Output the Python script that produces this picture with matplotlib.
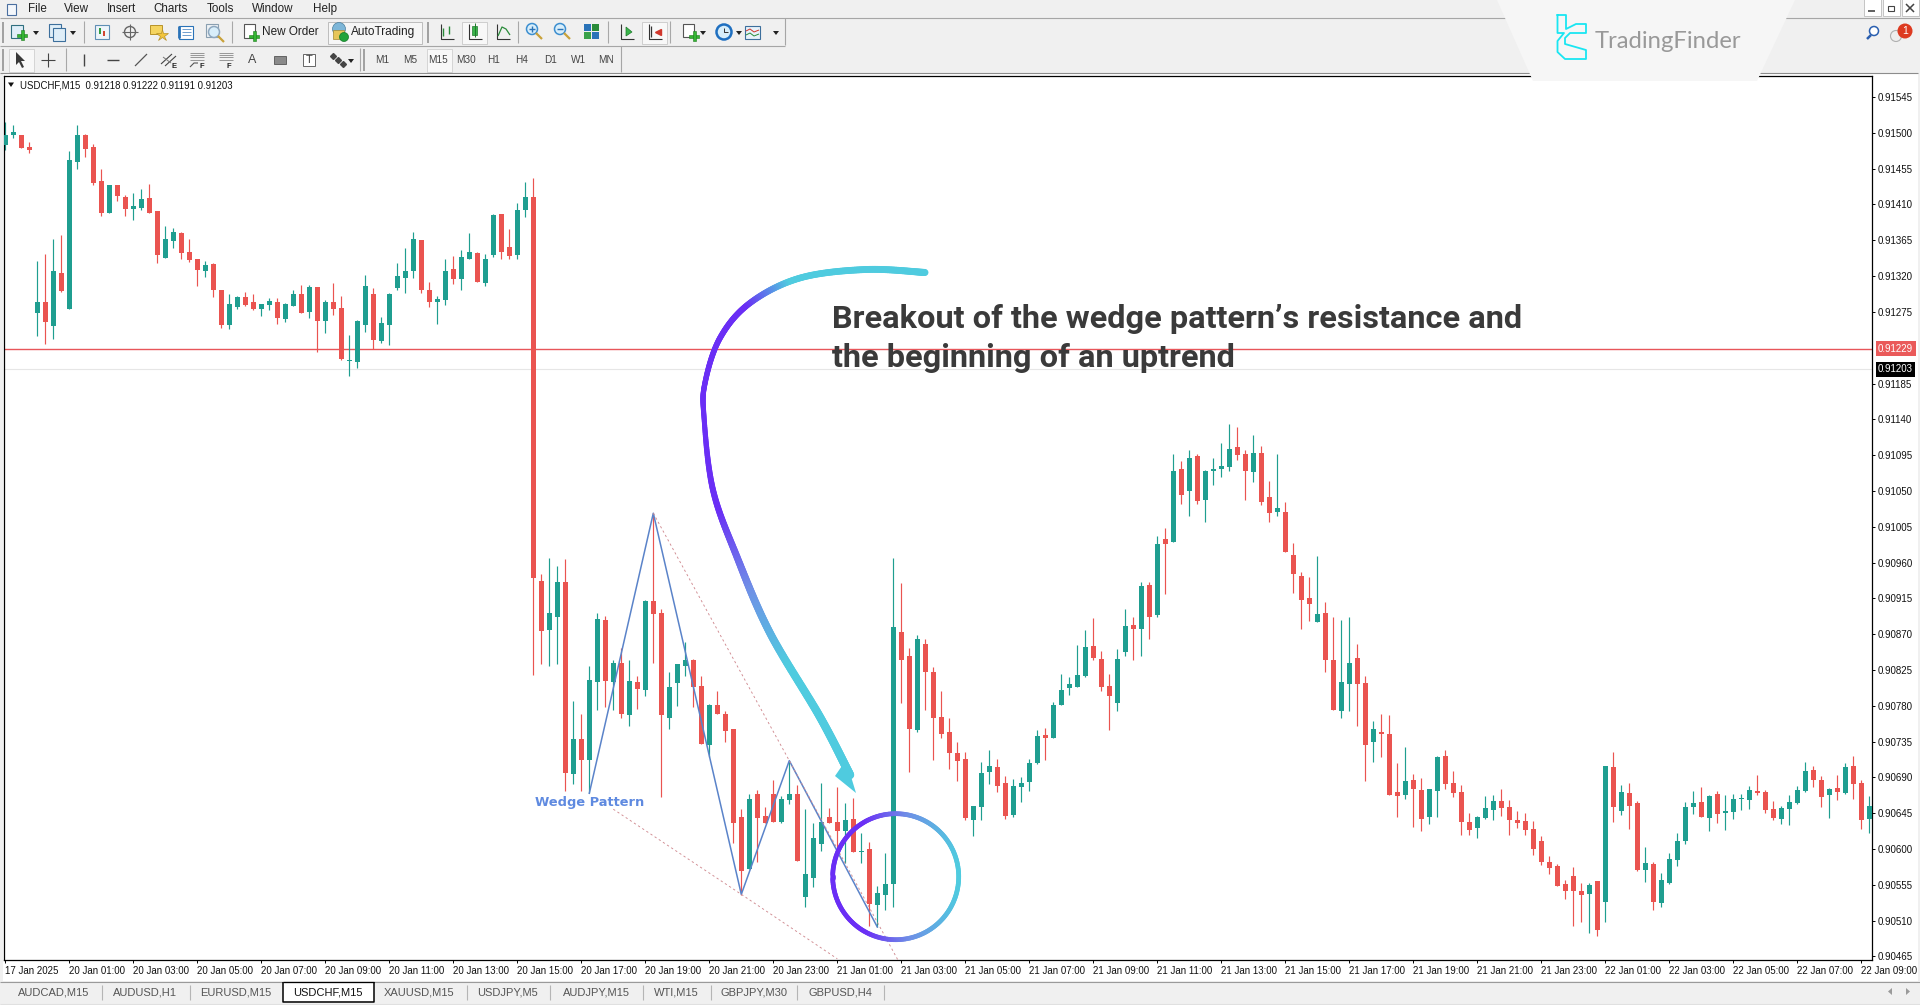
import numpy as np
import matplotlib
matplotlib.use('Agg')
import matplotlib.pyplot as plt
from matplotlib.collections import LineCollection
from matplotlib.patches import Rectangle, Polygon, Circle

# prices in points (1e-5), one value per M15 bar
highs = [
    91514, 91510, 91497, 91488, 91339, 91348, 91366, 91372, 91477, 91510,
    91499, 91486, 91455, 91435, 91435, 91422, 91424, 91430, 91436, 91402,
    91383, 91380, 91375, 91367, 91342, 91339, 91336, 91303, 91298, 91295,
    91300, 91297, 91285, 91292, 91292, 91286, 91302, 91309, 91309, 91306,
    91290, 91311, 91295, 91246, 91265, 91321, 91305, 91269, 91299, 91337,
    91355, 91375, 91365, 91313, 91295, 91341, 91345, 91353, 91374, 91350,
    91348, 91398, 91398, 91379, 91412, 91438, 91443, 90945, 90966, 90956,
    90965, 90786, 90770, 90830, 90896, 90893, 90837, 90852, 90838, 90817,
    90913, 91022, 90902, 90822, 90833, 90860, 90839, 90817, 90782, 90799,
    90774, 90751, 90650, 90669, 90674, 90653, 90687, 90667, 90711, 90681,
    90650, 90633, 90683, 90652, 90678, 90658, 90664, 90620, 90609, 90554,
    90595, 90966, 90934, 90852, 90869, 90864, 90829, 90799, 90764, 90735,
    90722, 90654, 90709, 90724, 90713, 90692, 90688, 90690, 90713, 90749,
    90752, 90785, 90820, 90816, 90856, 90875, 90890, 90849, 90820, 90851,
    90901, 90892, 90936, 90935, 90993, 91003, 91096, 91088, 91101, 91097,
    91076, 91091, 91110, 91134, 91130, 91101, 91120, 91106, 91062, 91096,
    91036, 90984, 90948, 90942, 90968, 90911, 90891, 90888, 90891, 90858,
    90818, 90761, 90770, 90769, 90708, 90728, 90694, 90689, 90675, 90717,
    90724, 90698, 90680, 90645, 90641, 90667, 90668, 90675, 90662, 90648,
    90645, 90635, 90616, 90591, 90581, 90561, 90577, 90557, 90557, 90560,
    90704, 90722, 90680, 90683, 90660, 90603, 90584, 90570, 90595, 90620,
    90659, 90673, 90678, 90668, 90673, 90668, 90669, 90669, 90679, 90693,
    90674, 90660, 90654, 90668, 90679, 90709, 90704, 90692, 90677, 90693,
    90708, 90717, 90687, 90667,
]
lows = [
    91478, 91494, 91481, 91475, 91245, 91235, 91241, 91300, 91279, 91455,
    91470, 91434, 91395, 91399, 91414, 91396, 91391, 91403, 91399, 91336,
    91343, 91355, 91342, 91338, 91308, 91319, 91294, 91255, 91254, 91279,
    91283, 91277, 91270, 91277, 91260, 91262, 91282, 91273, 91267, 91225,
    91249, 91271, 91215, 91194, 91205, 91250, 91229, 91236, 91233, 91303,
    91299, 91318, 91299, 91281, 91260, 91284, 91310, 91303, 91342, 91312,
    91308, 91344, 91342, 91342, 91342, 91394, 90819, 90832, 90830, 90833,
    90673, 90682, 90673, 90670, 90775, 90779, 90775, 90765, 90754, 90776,
    90792, 90834, 90665, 90751, 90780, 90817, 90778, 90732, 90716, 90770,
    90734, 90608, 90542, 90575, 90584, 90633, 90634, 90633, 90657, 90585,
    90527, 90552, 90597, 90633, 90598, 90583, 90596, 90582, 90503, 90502,
    90523, 90527, 90784, 90697, 90747, 90775, 90712, 90740, 90700, 90685,
    90636, 90616, 90637, 90682, 90671, 90638, 90640, 90659, 90673, 90707,
    90712, 90739, 90781, 90794, 90804, 90816, 90838, 90799, 90749, 90774,
    90842, 90838, 90842, 90864, 90891, 90920, 90986, 91033, 91018, 91034,
    91011, 91057, 91068, 91075, 91089, 91038, 91061, 91032, 91011, 91018,
    90973, 90922, 90876, 90886, 90885, 90823, 90775, 90764, 90774, 90755,
    90686, 90709, 90716, 90668, 90640, 90663, 90628, 90623, 90631, 90640,
    90676, 90665, 90617, 90617, 90614, 90638, 90636, 90641, 90618, 90626,
    90618, 90593, 90580, 90569, 90554, 90537, 90503, 90508, 90494, 90491,
    90508, 90634, 90643, 90625, 90572, 90559, 90523, 90527, 90556, 90579,
    90606, 90644, 90640, 90623, 90633, 90624, 90638, 90649, 90650, 90668,
    90645, 90636, 90631, 90630, 90657, 90672, 90678, 90653, 90639, 90662,
    90669, 90663, 90625, 90620,
]
opens = [
    91485, 91497, 91497, 91482, 91273, 91288, 91257, 91324, 91279, 91464,
    91497, 91482, 91440, 91399, 91435, 91419, 91404, 91406, 91418, 91402,
    91343, 91364, 91374, 91350, 91342, 91326, 91335, 91303, 91258, 91281,
    91294, 91287, 91279, 91284, 91288, 91266, 91282, 91298, 91275, 91306,
    91264, 91288, 91280, 91213, 91212, 91259, 91298, 91238, 91259, 91305,
    91318, 91326, 91365, 91303, 91287, 91290, 91329, 91316, 91342, 91349,
    91311, 91347, 91398, 91357, 91347, 91403, 91419, 90937, 90875, 90892,
    90936, 90694, 90738, 90712, 90810, 90888, 90810, 90834, 90768, 90810,
    90800, 90912, 90897, 90765, 90808, 90830, 90838, 90805, 90731, 90781,
    90770, 90751, 90640, 90575, 90669, 90642, 90669, 90634, 90662, 90669,
    90540, 90564, 90606, 90640, 90634, 90623, 90638, 90596, 90600, 90530,
    90542, 90556, 90873, 90842, 90750, 90858, 90822, 90766, 90747, 90721,
    90713, 90637, 90653, 90697, 90703, 90683, 90643, 90678, 90684, 90708,
    90743, 90739, 90781, 90802, 90804, 90818, 90855, 90839, 90805, 90783,
    90847, 90882, 90877, 90932, 90894, 90989, 90986, 91078, 91050, 91094,
    91039, 91075, 91078, 91080, 91105, 91097, 91074, 91098, 91042, 91023,
    91024, 90970, 90943, 90916, 90885, 90897, 90838, 90774, 90807, 90840,
    90809, 90734, 90747, 90745, 90671, 90668, 90687, 90674, 90640, 90673,
    90717, 90683, 90672, 90634, 90626, 90639, 90649, 90660, 90653, 90636,
    90635, 90625, 90610, 90584, 90579, 90556, 90566, 90547, 90543, 90560,
    90533, 90703, 90648, 90670, 90658, 90574, 90581, 90532, 90557, 90586,
    90610, 90653, 90659, 90639, 90669, 90645, 90646, 90663, 90662, 90673,
    90672, 90650, 90638, 90650, 90658, 90673, 90699, 90687, 90668, 90677,
    90670, 90704, 90683, 90638,
]
closes = [
    91497, 91501, 91481, 91479, 91288, 91262, 91327, 91301, 91466, 91497,
    91480, 91437, 91399, 91435, 91421, 91404, 91408, 91417, 91399, 91346,
    91366, 91375, 91349, 91340, 91328, 91334, 91303, 91258, 91285, 91294,
    91284, 91279, 91285, 91289, 91267, 91285, 91298, 91274, 91306, 91264,
    91287, 91279, 91216, 91215, 91263, 91307, 91240, 91261, 91298, 91320,
    91327, 91366, 91303, 91287, 91291, 91327, 91316, 91344, 91350, 91313,
    91342, 91397, 91350, 91345, 91403, 91420, 90940, 90874, 90897, 90936,
    90696, 90738, 90712, 90812, 90889, 90811, 90834, 90770, 90811, 90801,
    90912, 90895, 90768, 90804, 90833, 90838, 90803, 90732, 90781, 90770,
    90748, 90633, 90572, 90663, 90639, 90633, 90634, 90663, 90669, 90585,
    90569, 90614, 90634, 90633, 90623, 90637, 90596, 90597, 90531, 90545,
    90556, 90879, 90838, 90751, 90864, 90822, 90765, 90745, 90721, 90711,
    90639, 90654, 90696, 90704, 90679, 90642, 90679, 90683, 90708, 90742,
    90740, 90781, 90800, 90807, 90819, 90854, 90840, 90804, 90792, 90839,
    90880, 90877, 90930, 90892, 90983, 90983, 91075, 91045, 91092, 91037,
    91075, 91077, 91081, 91103, 91095, 91075, 91098, 91036, 91022, 91028,
    90973, 90946, 90913, 90908, 90895, 90838, 90775, 90810, 90834, 90807,
    90731, 90751, 90744, 90668, 90667, 90685, 90676, 90638, 90675, 90716,
    90682, 90670, 90634, 90624, 90640, 90652, 90660, 90651, 90636, 90633,
    90624, 90600, 90584, 90576, 90554, 90547, 90547, 90542, 90555, 90498,
    90704, 90653, 90672, 90654, 90574, 90582, 90533, 90561, 90587, 90610,
    90653, 90658, 90640, 90667, 90644, 90648, 90663, 90664, 90674, 90670,
    90649, 90639, 90652, 90659, 90674, 90698, 90687, 90665, 90675, 90672,
    90703, 90682, 90636, 90654,
]

time_labels = ['17 Jan 2025'] + [
    '20 Jan 01:00', '20 Jan 03:00', '20 Jan 05:00', '20 Jan 07:00', '20 Jan 09:00',
    '20 Jan 11:00', '20 Jan 13:00', '20 Jan 15:00', '20 Jan 17:00', '20 Jan 19:00',
    '20 Jan 21:00', '20 Jan 23:00', '21 Jan 01:00', '21 Jan 03:00', '21 Jan 05:00',
    '21 Jan 07:00', '21 Jan 09:00', '21 Jan 11:00', '21 Jan 13:00', '21 Jan 15:00',
    '21 Jan 17:00', '21 Jan 19:00', '21 Jan 21:00', '21 Jan 23:00', '22 Jan 01:00',
    '22 Jan 03:00', '22 Jan 05:00', '22 Jan 07:00', '22 Jan 09:00']
price_ticks = [0.91545, 0.91500, 0.91455, 0.91410, 0.91365, 0.91320, 0.91275, 0.91185,
               0.91140, 0.91095, 0.91050, 0.91005, 0.90960, 0.90915, 0.90870, 0.90825,
               0.90780, 0.90735, 0.90690, 0.90645, 0.90600, 0.90555, 0.90510, 0.90465]
level_price = 0.91229
bid_price = 0.91203

# wedge pattern: bar index, price in points
zigzag_bars = [73, 81, 92, 98, 109]
zigzag_prices = [90670, 91022, 90543, 90711, 90502]
upper_bars = [81, 98, 111.6]
upper_prices = [91022, 90711, 90460]
lower_bars = [76, 92, 104]
lower_prices = [90650, 90543, 90462]

tabs = ['AUDCAD,M15', 'AUDUSD,H1', 'EURUSD,M15', 'USDCHF,M15', 'XAUUSD,M15',
        'USDJPY,M5', 'AUDJPY,M15', 'WTI,M15', 'GBPJPY,M30', 'GBPUSD,H4']
tab_centers = [54, 145, 236, 328, 419, 508, 596, 676, 754, 840]
tab_seps = [102, 190, 467, 550, 643, 711, 797, 884]
menus = ['File', 'View', 'Insert', 'Charts', 'Tools', 'Window', 'Help']
menu_x = [37, 76, 121, 171, 220, 273, 325]
periods = ['M1', 'M5', 'M15', 'M30', 'H1', 'H4', 'D1', 'W1', 'MN']
period_x = [382, 410, 438, 466, 494, 522, 551, 579, 606]

RED = '#ea5450'
TEAL = '#1f9e90'
BG = '#f0f0f0'
UI_FONT = 'Liberation Sans'

W, H = 1920, 1005
fig = plt.figure(figsize=(W / 100, H / 100), dpi=100, facecolor=BG)


def px_axes(z):
    a = fig.add_axes([0, 0, 1, 1], zorder=z)
    a.set_xlim(0, W)
    a.set_ylim(H, 0)
    a.axis('off')
    return a


back = px_axes(0)
back.add_patch(Rectangle((3, 74), 1915, 907, fc='white', ec='none'))

# main chart
L, R, T, B = 4, 1872, 76, 960
ax = fig.add_axes([L / W, 1 - B / H, (R - L) / W, (B - T) / H], zorder=1, facecolor='white')
o = np.array(opens) / 1e5
c = np.array(closes) / 1e5
h = np.array(highs) / 1e5
l = np.array(lows) / 1e5
x = np.arange(len(o))
cols = [TEAL if cc >= oo else RED for oo, cc in zip(o, c)]

ax.axhline(level_price, color='#e8565a', lw=1.0, zorder=1)
ax.axhline(bid_price, color='#e6e6e6', lw=0.8, zorder=1)
ax.vlines(x, l, h, colors=cols, lw=0.85, zorder=2)
ax.bar(x, np.abs(c - o), bottom=np.minimum(o, c), width=0.6, color=cols, linewidth=0, zorder=3)

ax.plot(zigzag_bars, np.array(zigzag_prices) / 1e5, color='#5a83c9', lw=1.1, zorder=4)
ax.plot(upper_bars, np.array(upper_prices) / 1e5, color='#d08a90', lw=0.65, ls=(0, (2.5, 3)), zorder=4)
ax.plot(lower_bars, np.array(lower_prices) / 1e5, color='#d08a90', lw=0.65, ls=(0, (2.5, 3)), zorder=4)
ax.text(73, 0.90659, 'Wedge Pattern', color='#5f8ae0', fontsize=9.4, fontweight='bold',
        family='DejaVu Sans', ha='center', va='center', zorder=5)

ax.set_xlim((L - 5.3) / 8, (R - 5.3) / 8)
ax.set_ylim((91667 - 1.2568 * B) / 1e5, (91667 - 1.2568 * T) / 1e5)
ax.set_xticks([0] + [8 + 8 * k for k in range(len(time_labels) - 1)])
ax.set_xticklabels(time_labels, ha='left', fontsize=7, family=UI_FONT, color='#111111')
ax.set_yticks(price_ticks)
ax.set_yticklabels(['%.5f' % p for p in price_ticks], fontsize=7, family=UI_FONT, color='#111111')
ax.yaxis.tick_right()
ax.tick_params(axis='both', length=2.2, width=0.7, pad=2.2, color='black')
for s in ax.spines.values():
    s.set_linewidth(0.9)
    s.set_color('black')

ytrans = ax.get_yaxis_transform()
tag_x = 1 + 6.0 / (R - L)
ax.text(tag_x, level_price, '%.5f' % level_price, transform=ytrans, fontsize=7, family=UI_FONT,
        color='white', va='center', ha='left', clip_on=False,
        bbox=dict(boxstyle='square,pad=0.25', fc='#ea5a5a', ec='none'))
ax.text(tag_x, bid_price, '%.5f' % bid_price, transform=ytrans, fontsize=7, family=UI_FONT,
        color='white', va='center', ha='left', clip_on=False,
        bbox=dict(boxstyle='square,pad=0.25', fc='black', ec='none'))

# everything drawn on top of the chart, in screen pixels
ui = px_axes(2)


def rect(x0, y0, w, hh, fc='none', ec='none', lw=0.7, z=2):
    ui.add_patch(Rectangle((x0, y0), w, hh, fc=fc, ec=ec, lw=lw, zorder=z))


def seg(xs, ys, color='#555555', lw=0.8, z=2):
    ui.plot(xs, ys, color=color, lw=lw, zorder=z, solid_capstyle='butt')


def label(x0, y0, s, size=8, color='#222222', ha='center', **kw):
    ui.text(x0, y0, s, fontsize=size, color=color, ha=ha, va='center', family=UI_FONT, **kw)


def drop(x0, y0):
    ui.add_patch(Polygon([(x0 - 3, y0 - 2), (x0 + 3, y0 - 2), (x0, y0 + 2)], fc='#222222', ec='none'))


def plus(x0, y0, r=4):
    rect(x0 - r, y0 - 1.5, 2 * r, 3, fc='#35b534', ec='#1d7a1d', lw=0.4)
    rect(x0 - 1.5, y0 - r, 3, 2 * r, fc='#35b534', ec='#1d7a1d', lw=0.4)


def doc(x0, y0, w=12, hh=13, ec='#3f6f8f', fc='#dfeef8'):
    rect(x0 - w / 2, y0 - hh / 2, w, hh, fc=fc, ec=ec, lw=0.8)


def glass(x0, y0, ring='#3d8fd0'):
    ui.add_patch(Circle((x0 - 2, y0 - 2), 5.5, fc='#d8eefa', ec=ring, lw=1.1, zorder=3))
    seg([x0 + 2, x0 + 8], [y0 + 2, y0 + 8], '#c9a23a', 1.6, z=3)


# chrome: menu bar and toolbars
seg([0, 1920], [18, 18], '#a6a6a6', 0.8)
seg([0, 785], [45.5, 45.5], '#a6a6a6', 0.8)
seg([0, 1918], [72.5, 72.5], '#8c8c8c', 0.8)
seg([785, 785], [18, 45], '#a6a6a6', 0.8)
seg([621, 621], [46, 72], '#a6a6a6', 0.8)
for mx, mt in zip(menu_x, menus):
    label(mx, 8.5, mt, size=8.4, color='#222222')
doc(11, 9, 9, 11, ec='#4a6fa0', fc='#f4f7fb')

row1, row2 = 32, 60
for sx in [84, 232, 518, 608, 670]:
    seg([sx, sx], [21, 43], '#a8a8a8', 0.8)
for sx in [66, 360]:
    seg([sx, sx], [48, 71], '#a8a8a8', 0.8)
for gx, y0, y1 in [(3, 22, 43), (428, 22, 43), (3, 49, 71), (364, 49, 71)]:
    seg([gx, gx], [y0, y1], '#a0a0a0', 1.4)

doc(17, row1 - 1, ec='#2f6f7f')
plus(22, row1 + 3, 5)
drop(36, row1 + 1)
doc(55, row1 - 2, ec='#3c6f9c')
doc(59, row1 + 2, ec='#3c6f9c')
drop(73, row1 + 1)
doc(102, row1, 14, 14, ec='#5f8fb5', fc='#eef5fa')
seg([100, 100], [row1 - 4, row1 + 2], '#2a9b3c', 1.4)
seg([104, 104], [row1 - 1, row1 + 4], '#d0432b', 1.4)
ui.add_patch(Circle((130, row1), 5.5, fc='none', ec='#666666', lw=1))
seg([122, 138], [row1, row1], '#666666', 0.8)
seg([130, 130], [row1 - 8, row1 + 8], '#666666', 0.8)
rect(150, row1 - 7, 12, 9, fc='#f5d45f', ec='#b8932a', lw=0.7)
ui.plot([162], [row1 + 3], marker='*', ms=9, color='#f3c53a', mec='#b8932a', mew=0.5)
doc(186, row1, 14, 13, ec='#2a73b8', fc='white')
seg([179, 179], [row1 - 6, row1 + 6], '#2a73b8', 2)
for dy in [-3, 0, 3]:
    seg([182, 191], [row1 + dy, row1 + dy], '#6f9fcf', 0.7)
doc(212, row1 - 2, 12, 13, ec='#8a9fb0', fc='#eef2f5')
glass(216, row1 + 2, '#8fa8bf')

doc(249, row1 - 1, 11, 14, ec='#555555', fc='white')
plus(254, row1 + 4, 5)
label(262, row1 - 0.5, 'New Order', size=8.5, ha='left')
rect(327.5, 21.5, 94, 22.5, fc='#f6f6f6', ec='#bdbdbd', lw=0.7, z=0.5)
ui.add_patch(Circle((339, row1 - 3), 6.5, fc='#7db6d8', ec='#4d7f9c', lw=0.5))
rect(333, row1 - 2, 11, 9, fc='#e6c65a', ec='#a58b33', lw=0.5)
ui.add_patch(Circle((344, row1 + 5), 4.5, fc='#21a33a', ec='#157a28', lw=0.5, zorder=3))
label(351, row1 - 0.5, 'AutoTrading', size=8.6, ha='left')

rect(461.5, 21.5, 25, 22, fc='#f8f8f8', ec='#c8c8c8', lw=0.6, z=0.5)
rect(641.5, 21.5, 25, 22, fc='#f8f8f8', ec='#c8c8c8', lw=0.6, z=0.5)
for ax_x in [446, 474, 502, 626, 654]:
    seg([ax_x - 5, ax_x - 5, ax_x + 8], [row1 - 8, row1 + 7, row1 + 7], '#333333', 0.8)
seg([443, 443], [row1 - 4, row1 + 4], '#2a8c3a', 1)
seg([449, 449], [row1 - 6, row1 + 2], '#2a8c3a', 1)
rect(472, row1 - 6, 5, 9, fc='#39b54a', ec='#1f7a2c', lw=0.5)
seg([474.5, 474.5], [row1 - 9, row1 + 5], '#1f7a2c', 0.7)
seg([498, 502, 506, 510], [row1 + 4, row1 - 5, row1 - 3, row1 + 3], '#2a8c3a', 0.9)
glass(534, row1 - 1)
seg([529, 535], [row1 - 3, row1 - 3], '#2a73b8', 1, z=4)
seg([532, 532], [row1 - 6, row1], '#2a73b8', 1, z=4)
glass(562, row1 - 1)
seg([557, 563], [row1 - 3, row1 - 3], '#2a73b8', 1, z=4)
rect(584, row1 - 8, 7, 7, fc='#2a73b8')
rect(592, row1 - 8, 7, 7, fc='#2a8c3a')
rect(584, row1, 7, 7, fc='#3aa14a')
rect(592, row1, 7, 7, fc='#2a73b8')
ui.add_patch(Polygon([(626, row1 - 5), (632, row1), (626, row1 + 4)], fc='#39b54a', ec='#1f7a2c', lw=0.5))
seg([651, 651], [row1 - 6, row1 + 5], '#333333', 0.9)
ui.plot([658], [row1], marker='<', ms=4, color='#d0362b')
doc(688, row1 - 2, 11, 13, ec='#555555', fc='white')
plus(694, row1 + 4, 5)
drop(703, row1 + 1)
ui.add_patch(Circle((724, row1), 7.5, fc='#d8eefa', ec='#1f6fc0', lw=1.8))
seg([724, 724, 728], [row1 - 4, row1, row1], '#333333', 0.7)
drop(739, row1 + 1)
doc(752, row1, 15, 13, ec='#3c6f9c', fc='#e8f2fa')
seg([746, 750, 754, 759], [row1 - 1, row1 - 3, row1, row1 - 2], '#d0362b', 0.7)
seg([746, 750, 754, 759], [row1 + 3, row1 + 1, row1 + 4, row1 + 2], '#2a8c3a', 0.7)
drop(776, row1 + 1)

rect(8.5, 48.5, 25, 23, fc='#f8f8f8', ec='#cfcfcf', lw=0.6, z=0.5)
ui.add_patch(Polygon([(16, row2 - 8), (16, row2 + 5), (19, row2 + 2), (22, row2 + 8), (24, row2 + 7),
                      (21, row2 + 1), (25, row2 + 1)], fc='#3a3a3a', ec='none'))
seg([41, 55], [row2, row2], '#444444', 0.8)
seg([48, 48], [row2 - 7, row2 + 7], '#444444', 0.8)
seg([84, 84], [row2 - 6, row2 + 6], '#444444', 1)
seg([107, 119], [row2, row2], '#444444', 1)
seg([135, 147], [row2 + 6, row2 - 6], '#555555', 0.9)
seg([161, 172], [row2 + 4, row2 - 6], '#444444', 0.8)
seg([165, 176], [row2 + 6, row2 - 4], '#444444', 0.8)
seg([163, 171], [row2 - 3, row2 + 3], '#777777', 0.7)
label(174, row2 + 6, 'E', size=5.5, weight='bold')
for fx in [197, 226]:
    for dy in [-7, -5, -3, 0]:
        seg([fx - 7, fx + 7], [row2 + dy, row2 + dy], '#888888', 0.6, z=2)
seg([190, 194, 198], [row2 + 7, row2 + 3, row2 + 3], '#555555', 0.8)
label(202, row2 + 6, 'F', size=5.5, weight='bold')
label(229, row2 + 6, 'F', size=5.5, weight='bold')
label(252, row2, 'A', size=9, color='#444444')
rect(274, row2 - 4, 12, 8, fc='#8a8a8a', ec='#555555', lw=0.6)
rect(303, row2 - 6, 12, 12, fc='white', ec='#666666', lw=0.7)
label(309, row2, 'T', size=8, color='#444444')
ui.plot([333, 338, 343], [row2 - 4, row2, row2 + 4], ls='', marker='D', ms=3, color='#444444')
drop(351, row2 + 1)
rect(426.5, 48.5, 25, 23, fc='#f8f8f8', ec='#cfcfcf', lw=0.6, z=0.5)
for px_, pt in zip(period_x, periods):
    label(px_, row2, pt, size=7.2, color='#444444')

# chart caption
ui.add_patch(Polygon([(8, 82.5), (14, 82.5), (11, 87)], fc='#111111', ec='none'))
label(20, 85, 'USDCHF,M15  0.91218 0.91222 0.91191 0.91203', size=6.9, ha='left', color='#111111')

# tab strip
rect(0, 982, 1920, 21, fc=BG, z=0.4)
seg([0, 1920], [981.5, 981.5], '#9a9a9a', 0.8)
seg([0, 1920], [1003.5, 1003.5], '#e0e0e0', 0.8)
for sx in tab_seps:
    seg([sx, sx], [985, 1000], '#b5b5b5', 0.8)
rect(283, 982, 90.5, 19, fc='white', ec='none', z=0.5)
seg([283, 283, 373.5, 373.5], [982, 1001.5, 1001.5, 982], 'black', 1.1)
seg([283, 373.5], [981.5, 981.5], 'black', 0.9)
for tx, tt in zip(tab_centers, tabs):
    active = tt == 'USDCHF,M15'
    label(tx, 992.5, tt, size=8, color='#111111' if active else '#555555')
ui.add_patch(Polygon([(1892, 988), (1892, 995), (1888, 991.5)], fc='#9a9a9a', ec='none'))
ui.add_patch(Polygon([(1906, 988), (1906, 995), (1910, 991.5)], fc='#9a9a9a', ec='none'))


def mix(t, stops, colors):
    rgb = np.array([matplotlib.colors.to_rgb(cc) for cc in colors])
    return np.column_stack([np.interp(t, stops, rgb[:, k]) for k in range(3)])


def smooth(pts, n=40):
    # Catmull-Rom through the hand-placed stroke points
    p = np.array(pts, float)
    p = np.vstack([p[0], p, p[-1]])
    out = []
    for k in range(1, len(p) - 2):
        s = np.linspace(0, 1, n, endpoint=False)[:, None]
        out.append(0.5 * (2 * p[k] + (p[k + 1] - p[k - 1]) * s
                          + (2 * p[k - 1] - 5 * p[k] + 4 * p[k + 1] - p[k + 2]) * s ** 2
                          + (3 * p[k] - p[k - 1] - 3 * p[k + 1] + p[k + 2]) * s ** 3))
    out.append(p[-2:-1])
    return np.vstack(out)


CYAN, PURPLE, MID = '#4fcbdf', '#6a2ef5', '#6f8fe6'

# curved callout arrow
stroke = [(925, 272.5), (866, 269.5), (800, 278), (750, 303), (720, 338), (705, 383), (704, 417),
          (713, 490), (737, 557), (770, 633), (820, 717), (850, 775)]
curve = smooth(stroke)
dist = np.r_[0, np.cumsum(np.hypot(*np.diff(curve, axis=0).T))]
frac = dist / dist[-1]
seg_xy = np.stack([curve[:-1], curve[1:]], axis=1)
tm = frac[:-1]
arrow_cols = mix(tm, [0, .2, .27, .58, .70, .82, 1], [CYAN, CYAN, PURPLE, PURPLE, MID, CYAN, CYAN])
arrow_w = np.interp(tm, [0, .2, .45, .7, 1], [7, 6.5, 5, 7.5, 8.5]) * 0.72
ui.add_collection(LineCollection(seg_xy, colors=arrow_cols, linewidths=arrow_w, capstyle='round', zorder=6))
ui.add_patch(Polygon([(856, 793), (835, 776), (846, 760)], fc=CYAN, ec='none', zorder=6))

# circle around the breakout
cx, cy, rad = 895.7, 876.7, 63
ang = np.linspace(0, 2 * np.pi, 240)
ring = np.column_stack([cx + rad * np.cos(ang), cy + rad * np.sin(ang)])
ring_seg = np.stack([ring[:-1], ring[1:]], axis=1)
ring_t = (ring_seg[:, 0, 0] - (cx - rad)) / (2 * rad)
ring_cols = mix(ring_t, [0, .25, .6, 1], [PURPLE, PURPLE, MID, CYAN])
ui.add_collection(LineCollection(ring_seg, colors=ring_cols, linewidths=3.4, capstyle='round', zorder=6))

ui.text(832, 318.5, 'Breakout of the wedge pattern\u2019s resistance and', fontsize=23.4, family='Roboto',
        fontweight='bold', color='#3a3a3a', va='center', ha='left', zorder=7)
ui.text(832, 357.5, 'the beginning of an uptrend', fontsize=23.4, family='Roboto',
        fontweight='bold', color='#3a3a3a', va='center', ha='left', zorder=7)

# logo panel and window controls
ui.add_patch(Polygon([(1497, 0), (1795, 0), (1757, 81), (1533, 81)], fc='#f6f6f6', ec='none', zorder=8))
LOGO = '#19e6f2'
logo_a = [(1557.5, 15), (1566, 15), (1566, 29), (1576, 24), (1586, 24), (1586, 33), (1570, 33),
          (1565, 38), (1565, 44), (1586, 50), (1586, 59), (1565, 59), (1557.5, 52), (1557.5, 41),
          (1564, 33), (1557.5, 33), (1557.5, 15)]
ui.plot(*zip(*logo_a), color=LOGO, lw=1.3, zorder=9)
ui.text(1595, 41, 'TradingFinder', fontsize=17.2, family='Lato', color='#999999', va='center', ha='left', zorder=9)

for bx in [1864, 1883, 1902]:
    rect(bx, -1, 17, 17, fc='white', ec='#c4c4c4', lw=0.7, z=1.5)
seg([1868, 1875], [11, 11], '#444444', 1.2)
rect(1888, 6, 6, 5, ec='#444444', lw=0.8)
seg([1906, 1914], [4, 12], '#444444', 1.1)
seg([1906, 1914], [12, 4], '#444444', 1.1)
ui.add_patch(Circle((1874, 31), 4.5, fc='white', ec='#2a5fb0', lw=1.1, zorder=3))
seg([1871, 1867], [35, 39], '#2a5fb0', 1.8, z=3)
ui.add_patch(Circle((1896, 36), 5.5, fc='#eeeeee', ec='#b0b0b0', lw=0.8, zorder=3))
ui.add_patch(Circle((1905, 31), 7.5, fc='#dd3a20', ec='none', zorder=4))
ui.text(1905, 31, '1', fontsize=7.5, color='white', family=UI_FONT, ha='center', va='center', zorder=5)

# icons left at the default patch level go above the button backgrounds
for p in ui.patches:
    if p.get_zorder() == 1:
        p.set_zorder(2)

fig.savefig('out.png', dpi=100, facecolor=fig.get_facecolor())
